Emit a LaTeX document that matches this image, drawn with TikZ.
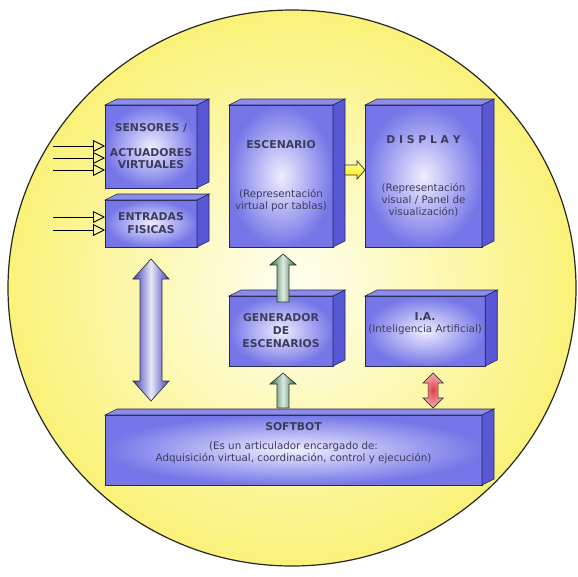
\documentclass[tikz,border=0pt]{standalone}
\usepackage{fontspec}
\setmainfont{DejaVu Sans}
\usetikzlibrary{calc,arrows.meta}
\definecolor{azulcaja}{RGB}{118,118,232}
\definecolor{azulclaro}{RGB}{238,238,255}
\definecolor{azullado}{RGB}{88,88,214}
\definecolor{azultapa}{RGB}{140,140,236}
\definecolor{azulflecha}{RGB}{62,62,190}
\definecolor{borde}{RGB}{40,40,80}
\definecolor{texto}{RGB}{60,60,95}
\definecolor{amarillo}{RGB}{250,242,120}
\definecolor{crema}{RGB}{255,255,242}
\definecolor{verde}{RGB}{38,110,62}
\definecolor{rojo}{RGB}{225,60,70}
\definecolor{rosa}{RGB}{245,175,175}

\tikzset{
  fondo/.style={draw=black!85, line width=1.2pt, inner color=crema, outer color=amarillo},
  caja/.style={draw=borde, line width=0.6pt, inner color=azulclaro, outer color=azulcaja,
    anchor=north west, outer sep=0pt, align=center, text=texto,
    font=\fontsize{10.3}{12}\selectfont},
  tapa/.style={draw=borde, line width=0.6pt, fill=azultapa},
  lado/.style={draw=borde, line width=0.6pt, fill=azullado},
  entrada/.style={line width=0.9pt, -{Triangle[open,length=12pt,width=12pt]}},
  flechaverde/.style={draw=black!80, line width=0.7pt, left color=verde, right color=verde, middle color=verde!15},
  flecharoja/.style={draw=black!80, line width=0.7pt, inner color=rojo, outer color=rosa},
  flechaazul/.style={draw=black!80, line width=0.7pt, left color=azulflecha, right color=azulflecha, middle color=azulflecha!12},
  flechaamarilla/.style={draw=black!80, line width=0.7pt, top color=yellow!35, bottom color=yellow!85!orange}
}

% titulo de caja
\newcommand{\tit}[1]{{\fontsize{10.8}{12}\selectfont\bfseries #1}}

% caras de profundidad de una caja
\newcommand{\fondocaja}[1]{
  \draw[tapa] (#1.north west) -- ++(12,-6) -- ($(#1.north east)+(12,-6)$) -- (#1.north east) -- cycle;
  \draw[lado] (#1.north east) -- ++(12,-6) -- ($(#1.south east)+(12,-6)$) -- (#1.south east) -- cycle;
}

\begin{document}
\begin{tikzpicture}[x=1pt,y=-1pt]
\useasboundingbox (0,0) rectangle (578,576);

\draw[fondo] (292,288) ellipse [x radius=284, y radius=278];

% cajas
\node[caja, minimum width=92pt, minimum height=83pt] (sen) at (105,105)
  {\tit{SENSORES /}\\[13pt]\tit{ACTUADORES}\\\tit{VIRTUALES}};
\node[caja, minimum width=92pt, minimum height=47pt] (ent) at (105,200)
  {\tit{ENTRADAS}\\[1pt]\tit{FISICAS}};
\node[caja, minimum width=104pt, minimum height=142pt] (esc) at (229,105)
  {\tit{ESCENARIO}\\[37pt](Representación\\virtual por tablas)};
\node[caja, minimum width=117pt, minimum height=142pt] (dis) at (365,105)
  {\tit{D I S P L A Y}\\[36pt](Representación\\visual / Panel de\\visualización)};
\node[caja, minimum width=104pt, minimum height=70pt] (gen) at (229,296)
  {\tit{GENERADOR}\\[1pt]\tit{DE}\\[1pt]\tit{ESCENARIOS}};
\node[caja, minimum width=117pt, minimum height=70pt] (ia) at (365,296)
  {\tit{I.A.}\\(Inteligencia Artificial)\\[2pt]\strut};
\node[caja, minimum width=377pt, minimum height=70pt] (soft) at (105,415)
  {\tit{SOFTBOT}\\[7pt](Es un articulador encargado de:\\Adquisición virtual, coordinación, control y ejecución)\\[1pt]\strut};

\fondocaja{sen}
\fondocaja{ent}
\fondocaja{esc}
\fondocaja{dis}
\fondocaja{gen}
\fondocaja{ia}
\fondocaja{soft}

% entradas
\coordinate (s1) at (53,146);
\coordinate (s2) at (53,158);
\coordinate (s3) at (53,170);
\coordinate (e1) at (53,217);
\coordinate (e2) at (53,230);
\draw[entrada] (s1) -- (s1 -| sen.west);
\draw[entrada] (s2) -- (s2 -| sen.west);
\draw[entrada] (s3) -- (s3 -| sen.west);
\draw[entrada] (e1) -- (e1 -| ent.west);
\draw[entrada] (e2) -- (e2 -| ent.west);

% escenario -> display
\path[flechaamarilla] let \p1=($(esc.east)+(12,-6)$), \p2=(dis.west) in
  (\x1,\y1-5pt) -- (\x2-8pt,\y1-5pt) -- (\x2-8pt,\y1-9pt) -- (\x2,\y1) -- (\x2-8pt,\y1+9pt)
  -- (\x2-8pt,\y1+5pt) -- (\x1,\y1+5pt) -- cycle;

% generador -> escenario
\path[flechaverde] let \p1=($(gen.north)+(2,6)$), \p2=($(esc.south)+(0,7)$) in
  (\x1-6pt,\y1) -- (\x1-6pt,\y2-11pt) -- (\x1-13pt,\y2-11pt) -- (\x1,\y2) -- (\x1+13pt,\y2-11pt)
  -- (\x1+6pt,\y2-11pt) -- (\x1+6pt,\y1) -- cycle;

% softbot -> generador
\path[flechaverde] let \p1=($(soft.north -| gen.north)+(2,-7)$), \p2=($(gen.south)+(0,7)$) in
  (\x1-6pt,\y1) -- (\x1-6pt,\y2-11pt) -- (\x1-13pt,\y2-11pt) -- (\x1,\y2) -- (\x1+13pt,\y2-11pt)
  -- (\x1+6pt,\y2-11pt) -- (\x1+6pt,\y1) -- cycle;

% softbot <-> I.A.
\path[flecharoja] let \p1=($(ia.south)+(8,7)$), \p2=($(soft.north -| ia.south)+(8,-7)$) in
  (\x1,\y1) -- (\x1+10pt,\y1-10pt) -- (\x1+5pt,\y1-10pt) -- (\x1+5pt,\y2+10pt) -- (\x1+10pt,\y2+10pt)
  -- (\x1,\y2) -- (\x1-10pt,\y2+10pt) -- (\x1-5pt,\y2+10pt) -- (\x1-5pt,\y1-10pt) -- (\x1-10pt,\y1-10pt) -- cycle;

% entradas <-> softbot
\path[flechaazul] let \p1=($(ent.south)+(0,12)$), \p2=($(soft.north -| ent.south)+(0,-14)$) in
  (\x1,\y1) -- (\x1+18pt,\y1-20pt) -- (\x1+11pt,\y1-20pt) -- (\x1+11pt,\y2+20pt) -- (\x1+18pt,\y2+20pt)
  -- (\x1,\y2) -- (\x1-18pt,\y2+20pt) -- (\x1-11pt,\y2+20pt) -- (\x1-11pt,\y1-20pt) -- (\x1-18pt,\y1-20pt) -- cycle;
\end{tikzpicture}
\end{document}
